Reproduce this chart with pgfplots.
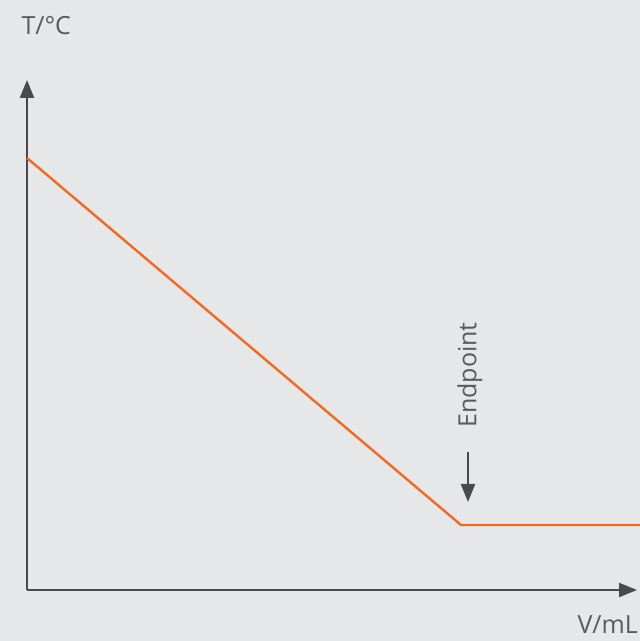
\documentclass[border=0pt]{standalone}
\usepackage{fontspec}
\setmainfont{Open Sans}
\usepackage{pgfplots}
\pgfplotsset{compat=1.18}
\usetikzlibrary{arrows.meta}
\definecolor{bg}{HTML}{E6E7E8}
\definecolor{axisgray}{HTML}{4A4A4A}
\definecolor{txt}{HTML}{5A5A5A}
\definecolor{orangeline}{HTML}{F26A21}
\begin{document}
\begin{tikzpicture}
\fill[bg] (0,0) rectangle (640pt,641pt);
\begin{axis}[
  at={(27pt,51pt)}, anchor=origin,
  scale only axis, width=610pt, height=510pt,
  xmin=0, xmax=610, ymin=0, ymax=510,
  axis lines=left,
  xtick=\empty, ytick=\empty,
  axis line style={axisgray, line width=2.4pt, -{Triangle[length=18pt,width=14pt]}},
  clip=false,
]
\addplot[orangeline, line width=2.4pt, line join=miter] coordinates {(0,432) (434,65) (613,65)};
\draw[axisgray, line width=2.4pt, -{Triangle[length=18pt,width=14pt]}] (axis cs:441,138) -- (axis cs:441,88);
\node[txt, rotate=90, anchor=center, font=\fontsize{25}{29}\selectfont] at (axis cs:443,215) {Endpoint};
\end{axis}
\node[txt, anchor=base east, inner sep=0pt, font=\fontsize{25}{29}\selectfont] at (638pt,7pt) {V/mL};
\node[txt, anchor=base west, font=\fontsize{25}{29}\selectfont] at (18pt,606pt) {T/°C};
\pgfresetboundingbox
\path[use as bounding box] (0,0) rectangle (640pt,641pt);
\end{tikzpicture}
\end{document}
